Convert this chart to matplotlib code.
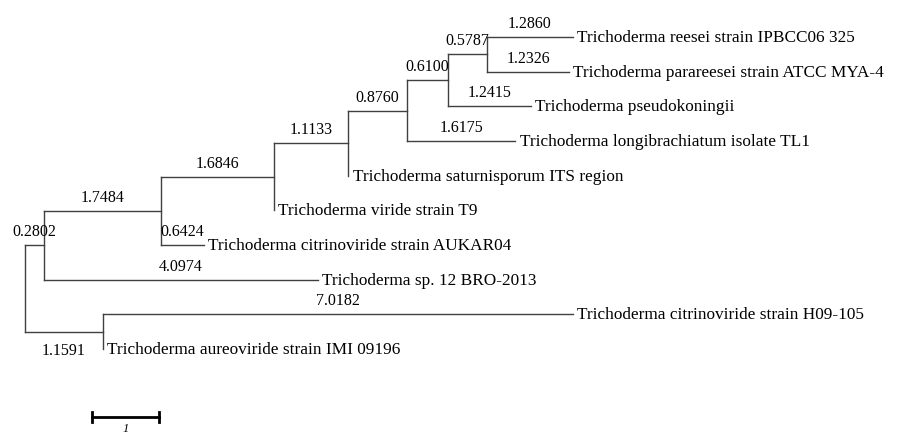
import matplotlib.pyplot as plt

plt.rcParams['font.family'] = ['Liberation Serif', 'DejaVu Serif']

# internal nodes: name, parent, branch length
node_names = ["A", "B", "C", "D", "E", "F", "G", "H"]
node_parent = ["root", "A", "B", "C", "D", "E", "F", "root"]
node_length = [0.2802, 1.7484, 1.6846, 1.1133, 0.8760, 0.6100, 0.5787, 1.1591]

# leaves, top to bottom
leaf_names = [
    "Trichoderma reesei strain IPBCC06 325",
    "Trichoderma parareesei strain ATCC MYA-4",
    "Trichoderma pseudokoningii",
    "Trichoderma longibrachiatum isolate TL1",
    "Trichoderma saturnisporum ITS region",
    "Trichoderma viride strain T9",
    "Trichoderma citrinoviride strain AUKAR04",
    "Trichoderma sp. 12 BRO-2013",
    "Trichoderma citrinoviride strain H09-105",
    "Trichoderma aureoviride strain IMI 09196",
]
leaf_parent = ["G", "G", "F", "E", "D", "C", "B", "A", "H", "H"]
leaf_length = [1.2860, 1.2326, 1.2415, 1.6175, 0.0, 0.0, 0.6424, 4.0974, 7.0182, 0.0]

# branch labels drawn under the line instead of above
labels_below = ["H"]

# x positions (cumulative branch length)
parent_of = dict(zip(node_names, node_parent))
length_of = dict(zip(node_names, node_length))
xpos = {"root": 0.0}
def get_x(n):
    if n not in xpos:
        xpos[n] = get_x(parent_of[n]) + length_of[n]
    return xpos[n]
for n in node_names:
    get_x(n)

# y positions: leaves by index, internal nodes at middle of children
ypos = {}
children = {n: [] for n in ["root"] + node_names}
for i, name in enumerate(leaf_names):
    ypos[name] = i
    xpos[name] = xpos[leaf_parent[i]] + leaf_length[i]
    children[leaf_parent[i]].append(name)
for n, p in zip(node_names, node_parent):
    children[p].append(n)
def get_y(n):
    if n not in ypos:
        ys = [get_y(c) for c in children[n]]
        ypos[n] = (min(ys) + max(ys)) / 2
    return ypos[n]
get_y("root")

fig = plt.figure(figsize=(8.99, 4.35), dpi=100)
ax = fig.add_axes([0, 0, 1, 1])
lc = "#404040"
lw = 1.0
num_fs = 11.5
leaf_fs = 12.4

# vertical lines at each internal node
for n in ["root"] + node_names:
    ys = [ypos[c] for c in children[n]]
    ax.plot([xpos[n], xpos[n]], [min(ys), max(ys)], color=lc, lw=lw)

# horizontal branches + length labels
for n, p, L in zip(node_names, node_parent, node_length):
    ax.plot([xpos[p], xpos[n]], [ypos[n], ypos[n]], color=lc, lw=lw)
    below = n in labels_below
    ax.annotate(f"{L:.4f}", ((xpos[p] + xpos[n]) / 2, ypos[n]),
                xytext=(0, -13 if below else 10), textcoords="offset points",
                ha="center", va="center", fontsize=num_fs)

for i, name in enumerate(leaf_names):
    p = leaf_parent[i]
    L = leaf_length[i]
    if L > 0:
        ax.plot([xpos[p], xpos[name]], [ypos[name], ypos[name]], color=lc, lw=lw)
        ax.annotate(f"{L:.4f}", ((xpos[p] + xpos[name]) / 2, ypos[name]),
                    xytext=(0, 10), textcoords="offset points",
                    ha="center", va="center", fontsize=num_fs)
    ax.annotate(name, (xpos[name], ypos[name]), xytext=(3, 0),
                textcoords="offset points", ha="left", va="center", fontsize=leaf_fs)

# scale bar
sb_y = 10.96
ax.plot([1, 2], [sb_y, sb_y], color="black", lw=2)
ax.plot([1, 1], [sb_y - 0.15, sb_y + 0.15], color="black", lw=2)
ax.plot([2, 2], [sb_y - 0.15, sb_y + 0.15], color="black", lw=2)
ax.annotate("1", (1.5, sb_y), xytext=(0, -8), textcoords="offset points",
            ha="center", va="center", fontsize=9, style="italic")

ax.set_xlim(-25 / 67, 874 / 67)
ax.set_ylim(11.45, -1.096)
ax.axis("off")

plt.savefig("out.png", dpi=100)
